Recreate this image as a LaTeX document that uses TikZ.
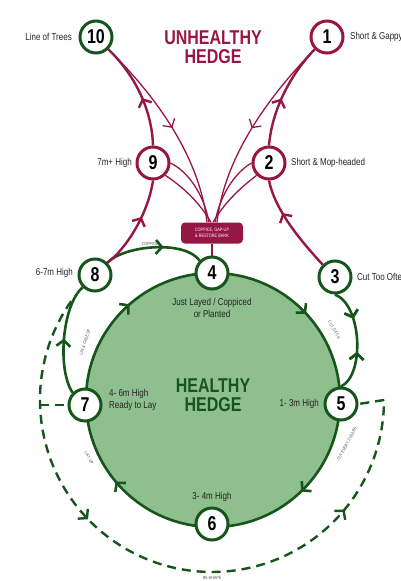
\documentclass[tikz,border=0pt]{standalone}
\usepackage{fontspec}
\setmainfont{Liberation Sans}[FakeStretch=0.8]
\usetikzlibrary{arrows.meta,decorations.markings}
\definecolor{hg}{RGB}{22,85,28}
\definecolor{hfill}{RGB}{143,190,143}
\definecolor{mr}{RGB}{150,22,68}
\definecolor{txt}{RGB}{35,35,35}
\pgfdeclarelayer{bg}
\pgfsetlayers{bg,main}
\tikzset{
  num/.style={circle,draw,line width=3pt,fill=white,minimum size=32pt,inner sep=0pt,font=\bfseries\fontsize{20}{20}\selectfont},
  gnum/.style={num,draw=hg},
  mnum/.style={num,draw=mr},
  lbl/.style={text=txt,font=\fontsize{10}{12}\selectfont,inner sep=1pt},
  tiny/.style={text=gray!60!black,font=\fontsize{4.5}{5}\selectfont,inner sep=0pt},
  gline/.style={draw=hg,line width=2.6pt},
  mline/.style={draw=mr,line width=2.4pt},
  fline/.style={draw=mr,line width=1.3pt},
  barb/.tip={Straight Barb[length=6pt,width=14pt]},
  am/.style={postaction={decorate},decoration={markings,mark=at position #1 with {\arrow{barb}}}},
  rm/.style={postaction={decorate},decoration={markings,mark=at position #1 with {\arrowreversed{barb}}}}
}
\begin{document}
\begin{tikzpicture}[x=1pt,y=-1pt]
\useasboundingbox (0,0) rectangle (401,581);

% nodes
\node[gnum] (n10) at (96,37) {10};
\node[mnum] (n1) at (327,37) {1};
\node[mnum] (n9) at (153,163) {9};
\node[mnum] (n2) at (269,163) {2};
\node[gnum] (n4) at (212,273) {4};
\node[gnum] (n8) at (95,275) {8};
\node[gnum] (n3) at (335,277) {3};
\node[gnum] (n7) at (85,405) {7};
\node[gnum] (n5) at (341,404) {5};
\node[gnum] (n6) at (212,524) {6};
\node[fill=mr,rounded corners=4pt,minimum width=62pt,minimum height=21pt,inner sep=1pt,align=center,text=white,font=\fontsize{4.8}{5.5}\selectfont] (box) at (212,233) {COPPICE, GAP-UP\\\& RESTORE BANK};

\begin{pgfonlayer}{bg}
  \fill[hfill] (213,400) circle[radius=127];
  \draw[gline,postaction={decorate},decoration={markings,
     mark=at position 0.128 with {\arrow{barb}},
     mark=at position 0.389 with {\arrow{barb}},
     mark=at position 0.636 with {\arrow{barb}},
     mark=at position 0.881 with {\arrow{barb}}}]
     (340,400) arc[start angle=0,end angle=360,radius=127];
  % dashed outer loop
  \draw[draw=hg,line width=2.4pt,dash pattern=on 9pt off 6pt,postaction={decorate},decoration={markings,
     mark=at position 0.367 with {\arrow[solid]{barb}},
     mark=at position 0.816 with {\arrow[solid]{barb}}}]
     (71.1,301.3) arc[start angle=215,end angle=0,radius=172];
  \coordinate (dr) at (384,400);
  \coordinate (dl) at (40,405);
  \draw[draw=hg,line width=2.4pt,dash pattern=on 9pt off 6pt] (dr) -- (n5.east);
  \draw[draw=hg,line width=2.4pt,dash pattern=on 9pt off 6pt] (dl) -- (n7.west);
\end{pgfonlayer}

% green outer arcs
\draw[gline,am=0.6] (n8.north east) .. controls (125,245) and (185,240) .. (n4.north west);
\draw[gline,am=0.5] (n7.north west) .. controls (57,370) and (62,305) .. (n8.south west);
\draw[gline,am=0.3,rm=0.62] (n3.south) .. controls (362,305) and (365,375) .. (n5.north);

% maroon connectors
\draw[mline,am=0.45] (n9.north) .. controls (152,110) and (135,75) .. (n10.south east);
\draw[mline,am=0.45] (n2.north) .. controls (272,110) and (290,75) .. (n1.south west);
\draw[mline,am=0.6] (n8.north east) .. controls (125,250) and (148,215) .. (n9.south);
\draw[mline,am=0.65] (n3.north west) .. controls (300,240) and (275,210) .. (n2.south);
\draw[mline] (box.south) -- (n4.north);

% fan into the box
\draw[fline,am=0.5] (n10.south east) .. controls (160,100) and (200,160) .. ([xshift=-5pt]box.north);
\draw[fline,am=0.5] (n1.south west) .. controls (265,100) and (224,160) .. ([xshift=5pt]box.north);
\draw[fline] (n9.east) .. controls (185,170) and (203,190) .. ([xshift=-3pt]box.north);
\draw[fline] (n9.south east) .. controls (180,185) and (198,200) .. ([xshift=-1pt]box.north);
\draw[fline] (n2.west) .. controls (239,170) and (221,190) .. ([xshift=3pt]box.north);
\draw[fline] (n2.south west) .. controls (244,185) and (226,200) .. ([xshift=1pt]box.north);

% titles
\node[text=mr,font=\bfseries\fontsize{20}{19}\selectfont,align=center] (t1) at (213,47) {UNHEALTHY\\HEDGE};
\node[text=hg,font=\bfseries\fontsize{20}{19}\selectfont,align=center] (t2) at (213,395) {HEALTHY\\HEDGE};

% labels
\node[lbl,anchor=east] (l10) at (73,37) {Line of Trees};
\node[lbl,anchor=west] (l1) at (349,37) {Short \& Gappy};
\node[lbl,anchor=east] (l9) at (133,163) {7m+ High};
\node[lbl,anchor=west] (l2) at (290,163) {Short \& Mop-headed};
\node[lbl,anchor=east] (l8) at (74,273) {6-7m High};
\node[lbl,anchor=west] (l3) at (356,277) {Cut Too Often};
\node[lbl,align=center] (l4) at (212,308) {Just Layed / Coppiced\\or Planted};
\node[lbl,anchor=west,align=left] (l7) at (108,400) {4- 6m High\\Ready to Lay};
\node[lbl,anchor=east] (l5) at (320,404) {1- 3m High};
\node[lbl] (l6) at (212,497) {3- 4m High};

% small action labels
\node[tiny] (a1) at (150,244) {COPPICE};
\node[tiny,rotate=72] (a2) at (85,342) {LAY \& CASE UP};
\node[tiny,rotate=-60] (a3) at (334,330) {CUT, DITCH};
\node[tiny,rotate=-60] (a4) at (89,458) {LIFT UP};
\node[tiny,rotate=62] (a5) at (347,444) {CUT EVERY 3 YEARS};
\node[tiny] (a6) at (212,578) {RE-SHAPE};
\end{tikzpicture}
\end{document}
